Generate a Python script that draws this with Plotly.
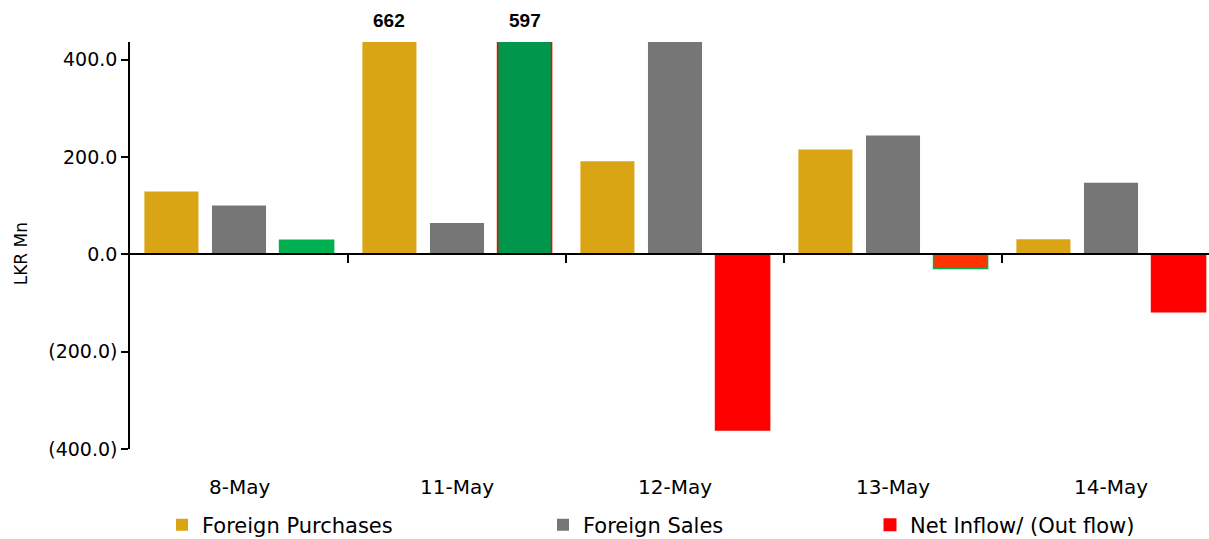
import plotly.graph_objects as go

categories = ["8-May", "11-May", "12-May", "13-May", "14-May"]
foreign_purchases = [129, 662, 191, 215, 31]
foreign_sales = [100, 64, 552, 244, 147]
net_flow = [29, 597, -361, -29, -118]
net_colors = ["#00B050", "#00964B", "#FF0000", "#FF3300", "#FF0000"]
net_outline = ["#00B050", "#FF0000", "#FF0000", "#00B050", "#FF0000"]
y_ticks = [-400, -200, 0, 200, 400]
labeled = [("purchases", 1), ("net", 1)]

FONT = "'DejaVu Sans', sans-serif"
Y_RANGE = [-400, 436]
BARGAP = 0.07
xs = list(range(len(categories)))

def fmt(v):
    return f"{v:,.1f}" if v >= 0 else f"({abs(v):,.1f})"

fig = go.Figure()
fig.add_bar(x=xs, y=foreign_purchases, name="Foreign Purchases",
            marker=dict(color="#DAA515", line=dict(width=0)),
            showlegend=True, legend="legend")
fig.add_bar(x=xs, y=foreign_sales, name="Foreign Sales",
            marker=dict(color="#767676", line=dict(width=0)),
            showlegend=True, legend="legend2")
fig.add_bar(x=xs, y=net_flow, name="Net Inflow/ (Out flow)",
            marker=dict(color=net_colors, line=dict(color=net_outline, width=1.5)),
            showlegend=False)
# legend entry for net flow (red square)
fig.add_scatter(x=[None], y=[None], mode="markers", name="Net Inflow/ (Out flow)",
                marker=dict(symbol="square", size=13, color="#FF0000"),
                legend="legend3")

# value labels above clipped bars
slot = (1 - BARGAP) / 3
series_map = {"purchases": (0, foreign_purchases), "sales": (1, foreign_sales), "net": (2, net_flow)}
for key, idx in labeled:
    k, vals = series_map[key]
    fig.add_annotation(x=idx + (k - 1) * slot, y=Y_RANGE[1], xref="x", yref="y",
                       text=f"<b>{vals[idx]:,.0f}</b>", showarrow=False,
                       yanchor="bottom", yshift=9,
                       font=dict(family="Arial, 'Liberation Sans'", size=19, color="#000000"))

# category labels at bottom
for i, c in enumerate(categories):
    fig.add_annotation(x=i, y=0, xref="x", yref="paper", text=c, showarrow=False,
                       yanchor="top", yshift=-24,
                       font=dict(family=FONT, size=20, color="#000000"))

# y-axis title
fig.add_annotation(x=-0.101, y=0, xref="paper", yref="y", text="LKR Mn", textangle=-90,
                   showarrow=False, xanchor="center", yanchor="middle",
                   font=dict(family=FONT, size=17, color="#000000"))

zero_pos = (0 - Y_RANGE[0]) / (Y_RANGE[1] - Y_RANGE[0])
plot_w = 1209 - 130
x_range = [-0.5, -0.5 + plot_w / 218]

legend_common = dict(orientation="h", yanchor="middle", xanchor="left", y=-0.187,
                     font=dict(family=FONT, size=21, color="#000000"),
                     bgcolor="rgba(0,0,0,0)", itemwidth=30)

def px_to_paper(px):
    return (px - 130) / plot_w

fig.update_layout(
    width=1209, height=539,
    margin=dict(l=130, r=0, t=42, b=90, autoexpand=False),
    paper_bgcolor="white", plot_bgcolor="white",
    barmode="group", bargap=BARGAP, bargroupgap=0.2,
    font=dict(family=FONT, size=20, color="#000000"),
    legend=dict(legend_common, x=px_to_paper(162)),
    legend2=dict(legend_common, x=px_to_paper(543)),
    legend3=dict(legend_common, x=px_to_paper(870)),
    xaxis=dict(range=x_range, anchor="free", position=zero_pos,
               showline=True, linecolor="#000000", linewidth=2,
               ticks="outside", ticklen=8, tickwidth=1.5, tickcolor="#000000",
               tickvals=[i + 0.5 for i in xs[:-1]], showticklabels=False,
               showgrid=False, zeroline=False, fixedrange=True, automargin=False),
    yaxis=dict(range=Y_RANGE, showline=True, linecolor="#000000", linewidth=1.5,
               ticks="outside", ticklen=7, tickwidth=1.5, tickcolor="#000000",
               tickvals=y_ticks, ticktext=[fmt(v) for v in y_ticks],
               tickfont=dict(family=FONT, size=19, color="#000000"),
               showgrid=False, zeroline=False, fixedrange=True, automargin=False),
)

fig.write_html("out.html", config={"displayModeBar": False},
               post_script="document.body.style.margin='0';document.body.style.overflow='hidden';")
